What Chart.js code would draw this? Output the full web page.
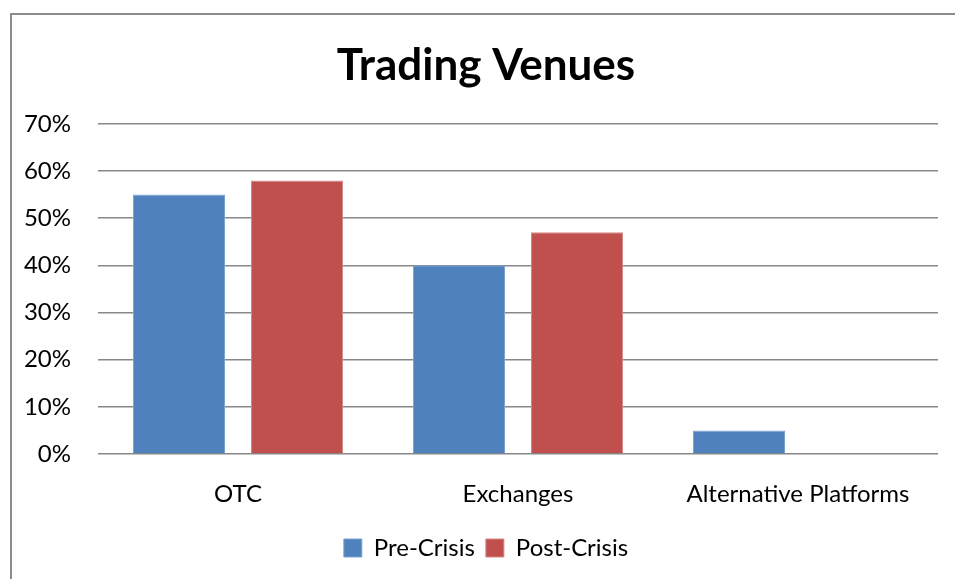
<!DOCTYPE html>
<html>
<head>
<meta charset="utf-8">
<script src="https://cdn.jsdelivr.net/npm/chart.js@4/dist/chart.umd.min.js"></script>
<style>
    html, body { margin: 0; padding: 0; background: #fff; }
    #wrap { position: relative; width: 955px; height: 579px; overflow: hidden; }
    #frame {
        position: absolute; left: 10px; top: 13px; width: 1000px; height: 1000px;
        border-left: 2px solid #8c8c8c; border-top: 2px solid #8c8c8c;
    }
    #chart { position: absolute; left: 0; top: 0; }
</style>
</head>
<body>
<div id="wrap">
    <div id="frame"></div>
    <canvas id="chart" width="955" height="579"></canvas>
</div>
<script>
// ===== DATA =====
const categories = ['OTC', 'Exchanges', 'Alternative Platforms'];
const preCrisis = [0.55, 0.40, 0.05];
const postCrisis = [0.58, 0.47, 0];
const seriesNames = ['Pre-Crisis', 'Post-Crisis'];
const yTicks = [0, 0.1, 0.2, 0.3, 0.4, 0.5, 0.6, 0.7];

const FONT = 'Lato, "Open Sans", sans-serif';

// ===== CHART =====
new Chart(document.getElementById('chart'), {
    type: 'bar',
    data: {
        labels: categories,
        datasets: [
            {
                label: seriesNames[0],
                data: preCrisis,
                backgroundColor: '#4f81bd',
                borderColor: '#7ea3d3',
                borderWidth: 1,
                categoryPercentage: 0.843,
                barPercentage: 0.78
            },
            {
                label: seriesNames[1],
                data: postCrisis,
                backgroundColor: '#c0504d',
                borderColor: '#d48886',
                borderWidth: 1,
                categoryPercentage: 0.843,
                barPercentage: 0.78
            }
        ]
    },
    options: {
        responsive: false,
        animation: false,
        layout: { padding: { left: 17, right: 0, top: 0, bottom: 9 } },
        plugins: {
            title: {
                display: true,
                text: 'Trading Venues',
                color: '#000',
                font: { family: FONT, size: 44, weight: 'bold' },
                padding: { top: 39, bottom: 32 }
            },
            legend: {
                position: 'bottom',
                labels: {
                    color: '#000',
                    font: { family: FONT, size: 24 },
                    boxWidth: 18,
                    boxHeight: 18,
                    padding: 11,
                    useBorderRadius: false
                }
            },
            tooltip: { enabled: false }
        },
        scales: {
            x: {
                afterFit: scale => { scale.height = 71; },
                grid: { display: false, drawTicks: false },
                border: { display: false },
                ticks: { color: '#000', font: { family: FONT, size: 24 }, padding: 26 }
            },
            y: {
                min: 0,
                max: 0.7,
                afterFit: scale => { scale.width = 81; },
                afterBuildTicks: scale => { scale.ticks = yTicks.map(v => ({ value: v })); },
                grid: { color: '#888', lineWidth: 1.5, drawTicks: false },
                border: { display: false },
                ticks: {
                    color: '#000',
                    font: { family: FONT, size: 24 },
                    padding: 27,
                    callback: v => Math.round(v * 100) + '%'
                }
            },
            // empty right-hand margin so the plot ends where the reference does
            yRight: {
                position: 'right',
                min: 0,
                max: 0.7,
                afterFit: scale => { scale.width = 17; },
                grid: { display: false, drawTicks: false },
                border: { display: false },
                ticks: { display: false }
            }
        }
    }
});
</script>
</body>
</html>
